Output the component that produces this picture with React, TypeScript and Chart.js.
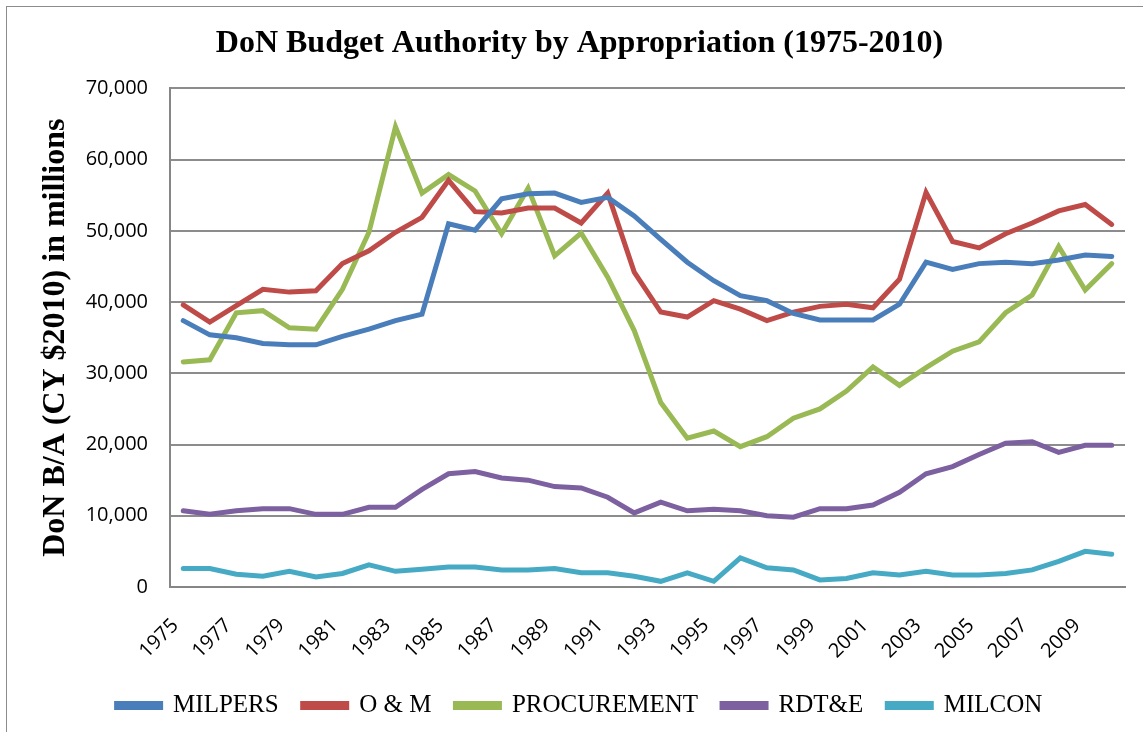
import React, { useEffect, useRef } from "react";
import { Chart, registerables } from "chart.js";

Chart.register(...registerables);

const years = [
  "1975", "1976", "1977", "1978", "1979", "1980", "1981", "1982", "1983", "1984", "1985", "1986",
  "1987", "1988", "1989", "1990", "1991", "1992", "1993", "1994", "1995", "1996", "1997", "1998",
  "1999", "2000", "2001", "2002", "2003", "2004", "2005", "2006", "2007", "2008", "2009", "2010",
];

const milpers = [
  37400, 35400, 35000, 34200, 34000, 34000, 35200, 36200, 37400, 38300, 51000, 50100,
  54500, 55200, 55300, 54000, 54700, 52100, 48800, 45600, 43000, 40900, 40200, 38400,
  37500, 37500, 37500, 39700, 45600, 44600, 45400, 45600, 45400, 45900, 46600, 46400,
];

const om = [
  39600, 37200, 39500, 41800, 41400, 41600, 45400, 47200, 49800, 51900, 57100, 52700,
  52500, 53200, 53200, 51100, 55300, 44200, 38600, 37900, 40200, 39000, 37400, 38600,
  39400, 39700, 39200, 43200, 55400, 48500, 47600, 49600, 51100, 52800, 53700, 50900,
];

const procurement = [
  31600, 31900, 38500, 38800, 36400, 36200, 41800, 49800, 64600, 55300, 57900, 55600,
  49600, 56000, 46500, 49700, 43500, 36000, 25900, 20900, 21900, 19700, 21100, 23700,
  25000, 27500, 30900, 28300, 30800, 33100, 34400, 38500, 41000, 47800, 41700, 45400,
];

const rdte = [
  10700, 10200, 10700, 11000, 11000, 10200, 10200, 11200, 11200, 13700, 15900, 16200,
  15300, 15000, 14100, 13900, 12600, 10400, 11900, 10700, 10900, 10700, 10000, 9800,
  11000, 11000, 11500, 13300, 15900, 16900, 18600, 20200, 20400, 18900, 19900, 19900,
];

const milcon = [
  2600, 2600, 1800, 1500, 2200, 1400, 1900, 3100, 2200, 2500, 2800, 2800,
  2400, 2400, 2600, 2000, 2000, 1500, 800, 2000, 800, 4100, 2700, 2400,
  1000, 1200, 2000, 1700, 2200, 1700, 1700, 1900, 2400, 3600, 5000, 4600,
];

const seriesNames = ["MILPERS", "O & M", "PROCUREMENT", "RDT&E", "MILCON"];
const seriesColors = ["#4A7EBB", "#BE4B48", "#98B954", "#7D60A0", "#46AAC5"];

export default function App() {
  const canvasRef = useRef<HTMLCanvasElement | null>(null);

  useEffect(() => {
    document.body.style.overflow = "hidden";
    const seriesData = [milpers, om, procurement, rdte, milcon];
    const chart = new Chart(canvasRef.current as HTMLCanvasElement, {
      type: "line",
      data: {
        labels: years,
        datasets: seriesNames.map((name, i) => ({
          label: name,
          data: seriesData[i],
          borderColor: seriesColors[i],
          backgroundColor: seriesColors[i],
          borderWidth: 5,
          pointRadius: 0,
          tension: 0,
          borderCapStyle: "round" as const,
          borderJoinStyle: "miter" as const,
        })),
      },
      options: {
        animation: false,
        responsive: true,
        maintainAspectRatio: false,
        layout: { padding: { left: 34, right: 18, top: 0, bottom: 4 } },
        plugins: {
          title: {
            display: true,
            text: "DoN Budget Authority by Appropriation (1975-2010)",
            color: "#000",
            font: { family: "'Liberation Serif', serif", size: 32, weight: "bold" },
            padding: { top: 25, bottom: 25 },
          },
          legend: {
            display: true,
            position: "bottom",
            labels: {
              color: "#000",
              font: { family: "'Liberation Serif', serif", size: 25 },
              boxWidth: 44,
              boxHeight: 4,
              padding: 24,
            },
          },
          tooltip: { enabled: false },
        },
        scales: {
          x: {
            type: "category",
            offset: true,
            grid: { display: false, drawTicks: false },
            border: { display: true, color: "#868686", width: 2 },
            afterFit: (scale: any) => {
              scale.paddingLeft = 0;
              scale.paddingRight = 0;
              scale.height = 82;
            },
            ticks: {
              autoSkip: false,
              maxRotation: 45,
              minRotation: 45,
              padding: 27,
              labelOffset: -8,
              color: "#000",
              font: { family: "'Open Sans', sans-serif", size: 20 },
              callback: (_v: any, idx: number) => (idx % 2 === 0 ? years[idx] : ""),
            },
          },
          y: {
            min: 0,
            max: 70000,
            grid: { color: "#8C8C8C", lineWidth: 2, drawTicks: false },
            border: { display: true, color: "#868686", width: 2 },
            afterFit: (scale: any) => {
              scale.width = 136;
            },
            ticks: {
              stepSize: 10000,
              padding: 22,
              color: "#000",
              font: { family: "'Open Sans', sans-serif", size: 20 },
              callback: (v: any) => Number(v).toLocaleString("en-US"),
            },
            title: {
              display: true,
              text: "DoN B/A (CY $2010) in millions",
              color: "#000",
              font: { family: "'Liberation Serif', serif", size: 32, weight: "bold" },
              padding: { top: 3, bottom: 11 },
            },
          },
        },
      },
    });
    return () => chart.destroy();
  }, []);

  return (
    <div style={{ position: "fixed", left: 0, top: 0, width: 1143, height: 732, overflow: "hidden", background: "#fff" }}>
      <div
        style={{
          position: "absolute",
          left: 6,
          top: 6,
          width: 1160,
          height: 760,
          border: "1px solid #8C8C8C",
          boxSizing: "border-box",
        }}
      />
      <div style={{ position: "absolute", left: 0, top: 0, width: 1143, height: 732 }}>
        <canvas ref={canvasRef} />
      </div>
    </div>
  );
}
